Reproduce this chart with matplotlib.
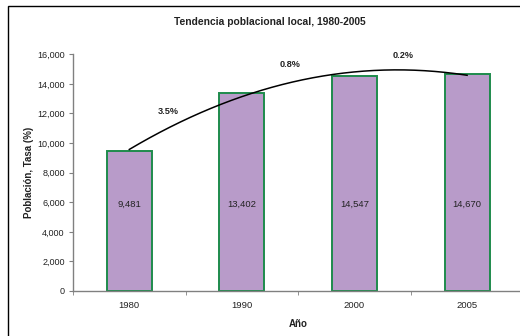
"""Bar chart of local population by census year with a quadratic trend line
and the annual growth rate between consecutive years."""

import matplotlib.pyplot as plt
import numpy as np
from matplotlib.patches import Rectangle

# ---------------------------------------------------------------------------
# Data
# ---------------------------------------------------------------------------

years = [1980, 1990, 2000, 2005]
population = [9481, 13402, 14547, 14670]
y_ticks = [0, 2000, 4000, 6000, 8000, 10000, 12000, 14000, 16000]

# ---------------------------------------------------------------------------
# Style
# ---------------------------------------------------------------------------

BAR_FACE = "#B89BC9"
BAR_EDGE = "#1E8B4C"
AXIS_GRAY = "#808080"
TEXT = "#222222"

plt.rcParams["font.family"] = ["Liberation Sans", "DejaVu Sans"]

fig = plt.figure(figsize=(5.2, 3.36), dpi=100)
fig.patch.set_facecolor("white")

W, H = 520, 336
left, right, bottom, top = 73, 523.4, 291, 54.3
ax = fig.add_axes([left / W, 1 - bottom / H, (right - left) / W, (bottom - top) / H])

x = np.arange(len(years))
ax.bar(x, population, width=0.4, color=BAR_FACE, edgecolor=BAR_EDGE,
       linewidth=1.4, zorder=2)

for xi, val in zip(x, population):
    ax.text(xi, 5850, f"{val:,}", ha="center", va="center",
            fontsize=6.8, color=TEXT, zorder=3)

# quadratic trend fitted to the bar values
coef = np.polyfit(x, population, 2)
xs = np.linspace(x[0], x[-1], 200)
ax.plot(xs, np.polyval(coef, xs), color="black", lw=1.1, zorder=4)

# annual growth rate between consecutive census years
rates = [
    (population[i + 1] / population[i]) ** (1 / (years[i + 1] - years[i])) - 1
    for i in range(len(years) - 1)
]
rate_pos = [(0.35, 12150), (1.43, 15300), (2.43, 15930)]
for r, (px, py) in zip(rates, rate_pos):
    ax.text(px, py, f"{r * 100:.1f}%", ha="center", va="center",
            fontsize=6.6, fontweight="bold", color=TEXT, clip_on=False)

ax.set_xlim(-0.5, len(years) - 0.5)
ax.set_ylim(0, 16000)
ax.set_yticks(y_ticks)
ax.set_yticklabels([f"{v:,}" for v in y_ticks])
ax.set_xticks(x)
ax.set_xticklabels([str(y) for y in years])
ax.set_xticks(np.arange(len(years) + 1) - 0.5, minor=True)

ax.tick_params(axis="x", which="major", length=0, pad=7,
               labelsize=6.8, labelcolor=TEXT)
ax.tick_params(axis="x", which="minor", length=3, direction="out",
               color=AXIS_GRAY)
ax.tick_params(axis="y", length=3, direction="out", color=AXIS_GRAY,
               labelsize=6.5, labelcolor=TEXT, pad=3)

for side in ("top", "right"):
    ax.spines[side].set_visible(False)
for side in ("left", "bottom"):
    ax.spines[side].set_color(AXIS_GRAY)
    ax.spines[side].set_linewidth(1.0)

ax.set_xlabel("Año", fontsize=7, fontweight="bold", color=TEXT, labelpad=7)
ax.set_ylabel("Población, Tasa (%)", fontsize=7, fontweight="bold",
              color=TEXT, labelpad=2.5)

fig.text(270 / W, 1 - 22 / H, "Tendencia poblacional local, 1980-2005",
         ha="center", va="center", fontsize=7.4, fontweight="bold", color=TEXT)

# chart-area frame
fig.patches.append(Rectangle((8 / W, -0.1), 1.2, 1 - 6 / H + 0.1,
                             transform=fig.transFigure, fill=False,
                             edgecolor="black", linewidth=1.0, zorder=10))

fig.savefig("out.png", dpi=100, facecolor="white")
plt.close(fig)
